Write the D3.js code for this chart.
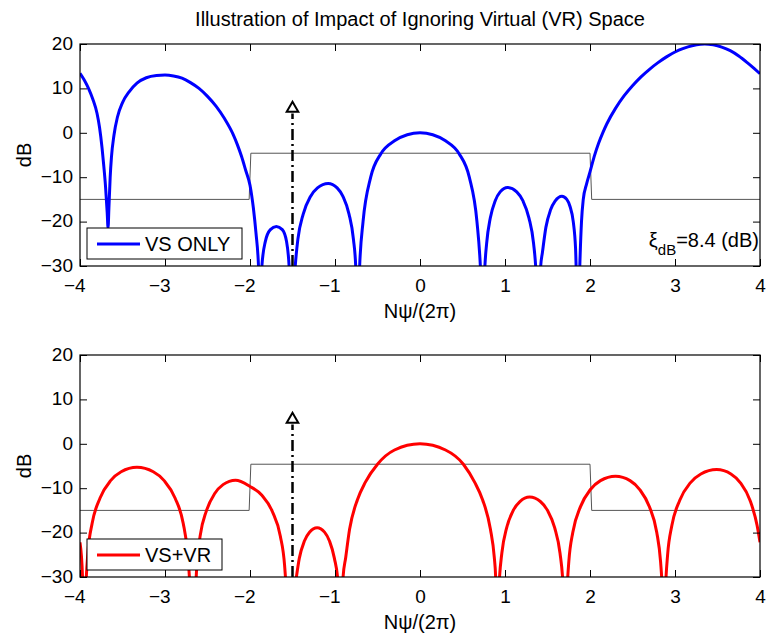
<!DOCTYPE html>
<html>
<head>
<meta charset="utf-8">
<script src="https://cdn.jsdelivr.net/npm/d3@7"></script>
<style>
  body { margin: 0; background: #fff; }
  svg { font-family: "Liberation Sans", Arial, sans-serif; }
  .axis text { font-size: 19px; fill: #000; }
  .axis line { stroke: #000; }
</style>
</head>
<body>
<div id="chart"></div>
<script>
// tick values
const xTicks = [-4, -3, -2, -1, 0, 1, 2, 3, 4];
const yTicks = [-30, -20, -10, 0, 10, 20];

// mask (thin grey step line)
const maskX = [-4, -2.01, -1.99, 2.0, 2.02, 4];
const maskDb = [-15, -15, -4.6, -4.6, -15, -15];

// arrow marker position
const arrowX = -1.5;
const arrowTopDb = 5.5;

// VS ONLY pattern, [x, dB]
const vsOnly = [
  [-4, 13.4], [-3.95, 11.9], [-3.9, 10], [-3.85, 7.6], [-3.8, 4.4], [-3.77, 1.2],
  [-3.74, -3.5], [-3.72, -7.5], [-3.7, -12], [-3.68, -18], [-3.67, -21.4],
  [-3.66, -17], [-3.645, -10], [-3.63, -5.5], [-3.6, -0.5], [-3.56, 3.5], [-3.5, 6.8],
  [-3.42, 9.3], [-3.33, 11.2], [-3.22, 12.4], [-3.1, 12.9], [-3.0, 13.0], [-2.9, 12.8],
  [-2.8, 12.3], [-2.7, 11.3], [-2.6, 10.0], [-2.5, 8.2], [-2.4, 6.0], [-2.3, 3.2],
  [-2.2, -0.3], [-2.15, -2.6], [-2.1, -5.3], [-2.05, -8.5], [-2.0, -11.8],
  [-1.96, -17], [-1.93, -22.5], [-1.9, -30], [-1.88, -42],
  [-1.86, -30], [-1.82, -24.5], [-1.76, -21.8], [-1.69, -21.1], [-1.62, -21.8],
  [-1.57, -24.5], [-1.54, -30], [-1.51, -45],
  [-1.47, -30.6], [-1.437, -24], [-1.374, -18.3], [-1.29, -14.4], [-1.206, -12.4],
  [-1.08, -11.4], [-0.975, -12.4], [-0.905, -14.4], [-0.835, -18.3], [-0.783, -24],
  [-0.755, -30.6], [-0.735, -45],
  [-0.71, -30], [-0.67, -20], [-0.58, -10], [-0.46, -4.7], [-0.3, -1.8], [-0.15, -0.45],
  [0, 0], [0.15, -0.45], [0.3, -1.8], [0.46, -4.7], [0.58, -10], [0.67, -20],
  [0.71, -30], [0.74, -45],
  [0.76, -31.5], [0.784, -24.9], [0.827, -19.2], [0.885, -15.3], [0.943, -13.3],
  [1.03, -12.3], [1.138, -13.3], [1.21, -15.3], [1.282, -19.2], [1.336, -24.9],
  [1.365, -31.5], [1.39, -45],
  [1.42, -30], [1.44, -27], [1.481, -21.3], [1.535, -17.4], [1.589, -15.4],
  [1.67, -14.3], [1.727, -15.0], [1.765, -16.6], [1.803, -20], [1.83, -26], [1.86, -45],
  [1.88, -30], [1.9, -20], [1.92, -15.1], [1.96, -11.5], [2.0, -8.8], [2.05, -5.3],
  [2.1, -2.4], [2.15, 0], [2.2, 2.1], [2.3, 5.5], [2.4, 8.3], [2.5, 10.6], [2.6, 12.6],
  [2.7, 14.3], [2.8, 15.8], [2.9, 17.1], [3.0, 18.2], [3.1, 19.0], [3.2, 19.6],
  [3.3, 19.95], [3.35, 20], [3.45, 19.8], [3.55, 19.3], [3.65, 18.5], [3.75, 17.3],
  [3.85, 15.8], [3.93, 14.5], [4.0, 13.3]
];

// VS+VR pattern, [x, dB]
const vsVr = [
  [-4, -22.2], [-3.97, -30], [-3.95, -45],
  [-3.93, -31.8], [-3.907, -24.5], [-3.857, -17.9], [-3.764, -12.2], [-3.64, -8.3],
  [-3.516, -6.3], [-3.33, -5.3], [-3.138, -6.3], [-3.01, -8.3], [-2.882, -12.2],
  [-2.786, -17.9], [-2.735, -24.5], [-2.709, -31.8], [-2.69, -45],
  [-2.645, -34.7], [-2.626, -27.4], [-2.587, -20.8], [-2.513, -15.1], [-2.415, -11.2],
  [-2.317, -9.2], [-2.17, -8.2], [-2.0, -9.6], [-1.86, -11.6], [-1.736, -15.3],
  [-1.643, -20.8], [-1.593, -27.4], [-1.569, -34.7], [-1.55, -45],
  [-1.465, -31.5], [-1.42, -25.8], [-1.36, -21.9], [-1.3, -19.9], [-1.21, -18.9],
  [-1.123, -19.9], [-1.065, -21.9], [-1.007, -25.8], [-0.963, -31.5], [-0.93, -45],
  [-0.905, -30], [-0.874, -25.6], [-0.828, -19.2], [-0.736, -12.6], [-0.644, -8.7],
  [-0.5, -4.6], [-0.3, -1.4], [0, 0], [0.3, -1.4], [0.51, -4.6], [0.644, -8.7],
  [0.736, -12.6], [0.828, -19.2], [0.874, -25.6], [0.89, -30], [0.905, -45],
  [0.932, -31.2], [0.963, -24.6], [1.02, -18.9], [1.097, -15.0], [1.175, -13.0],
  [1.29, -12.0], [1.416, -13.0], [1.5, -15.0], [1.584, -18.9], [1.647, -24.6],
  [1.681, -31.2], [1.71, -45],
  [1.728, -33.8], [1.751, -26.5], [1.798, -19.9], [1.887, -14.2], [2.005, -10.3],
  [2.123, -8.3], [2.3, -7.3], [2.471, -8.3], [2.585, -10.3], [2.699, -14.2],
  [2.785, -19.9], [2.83, -26.5], [2.853, -33.8], [2.87, -45],
  [2.889, -32.3], [2.913, -25], [2.963, -18.4], [3.056, -12.7], [3.18, -8.8],
  [3.304, -6.8], [3.49, -5.8], [3.658, -6.8], [3.77, -8.8], [3.882, -12.7],
  [3.966, -18.4], [4.0, -22.2]
];

const width = 768, height = 633;
const plotLeft = 80, plotRight = 760;
const fontSize = 20;

const panels = [
  {id: 'p1', top: 44, bottom: 266, data: vsOnly, color: '#0000ff', legend: 'VS ONLY',
   legendW: 155, showXi: true, title: 'Illustration of Impact of Ignoring Virtual (VR) Space'},
  {id: 'p2', top: 355, bottom: 577, data: vsVr, color: '#ff0000', legend: 'VS+VR',
   legendW: 135, showXi: false, title: null}
];

const svg = d3.select('#chart').append('svg')
    .attr('width', width)
    .attr('height', height);

svg.append('rect')
    .attr('width', width)
    .attr('height', height)
    .attr('fill', '#fff');

const fmt = d => d < 0 ? '\u2212' + Math.abs(d) : String(d);

panels.forEach(p => {
  const x = d3.scaleLinear().domain([-4, 4]).range([plotLeft, plotRight]);
  const y = d3.scaleLinear().domain([-30, 20]).range([p.bottom, p.top]);

  const g = svg.append('g');

  // clip to the axes box
  g.append('clipPath')
      .attr('id', 'clip-' + p.id)
    .append('rect')
      .attr('x', plotLeft)
      .attr('y', p.top)
      .attr('width', plotRight - plotLeft)
      .attr('height', p.bottom - p.top);

  const area = g.append('g').attr('clip-path', `url(#clip-${p.id})`);

  // grey mask
  const mask = maskX.map((v, i) => [v, maskDb[i]]);
  area.append('path')
      .attr('d', d3.line().x(d => x(d[0])).y(d => y(d[1]))(mask))
      .attr('fill', 'none')
      .attr('stroke', '#555')
      .attr('stroke-width', 1);

  // pattern curve
  area.append('path')
      .attr('d', d3.line().x(d => x(d[0])).y(d => y(d[1])).curve(d3.curveMonotoneX)(p.data))
      .attr('fill', 'none')
      .attr('stroke', p.color)
      .attr('stroke-width', 3)
      .attr('stroke-linejoin', 'round');

  // dash-dot arrow
  g.append('line')
      .attr('x1', x(arrowX)).attr('x2', x(arrowX))
      .attr('y1', y(-30)).attr('y2', y(arrowTopDb) + 5)
      .attr('stroke', '#000')
      .attr('stroke-width', 2.5)
      .attr('stroke-dasharray', '11,4,2,4');

  g.append('path')
      .attr('transform', `translate(${x(arrowX)},${y(arrowTopDb)})`)
      .attr('d', d3.symbol(d3.symbolTriangle, 58)())
      .attr('fill', '#fff')
      .attr('stroke', '#000')
      .attr('stroke-width', 2);

  // axes
  const xAxis = g.append('g')
      .attr('class', 'axis')
      .attr('transform', `translate(0,${p.bottom})`)
      .call(d3.axisBottom(x).tickValues(xTicks).tickFormat(fmt).tickSize(-7).tickSizeOuter(0).tickPadding(13));
  xAxis.selectAll('text').attr('dx', d => d < 0 ? '-0.3em' : 0);

  g.append('g')
      .attr('class', 'axis')
      .attr('transform', `translate(0,${p.top})`)
      .call(d3.axisTop(x).tickValues(xTicks).tickFormat('').tickSize(-7).tickSizeOuter(0));

  const yAxis = g.append('g')
      .attr('class', 'axis')
      .attr('transform', `translate(${plotLeft},0)`)
      .call(d3.axisLeft(y).tickValues(yTicks).tickFormat(fmt).tickSize(-7).tickSizeOuter(0).tickPadding(7));
  yAxis.selectAll('text').attr('dy', '0.28em');

  g.append('g')
      .attr('class', 'axis')
      .attr('transform', `translate(${plotRight},0)`)
      .call(d3.axisRight(y).tickValues(yTicks).tickFormat('').tickSize(-7).tickSizeOuter(0));

  g.selectAll('.domain').remove();

  g.append('rect')
      .attr('x', plotLeft)
      .attr('y', p.top)
      .attr('width', plotRight - plotLeft)
      .attr('height', p.bottom - p.top)
      .attr('fill', 'none')
      .attr('stroke', '#000')
      .attr('stroke-width', 1.2);

  // axis labels
  g.append('text')
      .attr('transform', `translate(31,${(p.top + p.bottom) / 2}) rotate(-90)`)
      .attr('text-anchor', 'middle')
      .attr('font-size', fontSize)
      .text('dB');

  g.append('text')
      .attr('x', (plotLeft + plotRight) / 2)
      .attr('y', p.bottom + 52)
      .attr('text-anchor', 'middle')
      .attr('font-size', fontSize)
      .text('N\u03c8/(2\u03c0)');

  if (p.title) {
    g.append('text')
        .attr('x', (plotLeft + plotRight) / 2)
        .attr('y', p.top - 18)
        .attr('text-anchor', 'middle')
        .attr('font-size', fontSize)
        .text(p.title);
  }

  // legend
  const lg = g.append('g')
      .attr('transform', `translate(${plotLeft + 7},${p.bottom - 38})`);
  lg.append('rect')
      .attr('width', p.legendW)
      .attr('height', 31)
      .attr('fill', '#fff')
      .attr('stroke', '#000')
      .attr('stroke-width', 1);
  lg.append('line')
      .attr('x1', 10).attr('x2', 53)
      .attr('y1', 16).attr('y2', 16)
      .attr('stroke', p.color)
      .attr('stroke-width', 3);
  lg.append('text')
      .attr('x', 58)
      .attr('y', 23)
      .attr('font-size', fontSize)
      .text(p.legend);

  if (p.showXi) {
    const t = g.append('text')
        .attr('x', plotRight - 1)
        .attr('y', p.bottom - 19)
        .attr('text-anchor', 'end')
        .attr('font-size', fontSize);
    t.append('tspan').text('\u03be');
    t.append('tspan').attr('dy', 8).attr('font-size', 15).text('dB');
    t.append('tspan').attr('dy', -8).text('=8.4 (dB)');
  }
});
</script>
</body>
</html>
